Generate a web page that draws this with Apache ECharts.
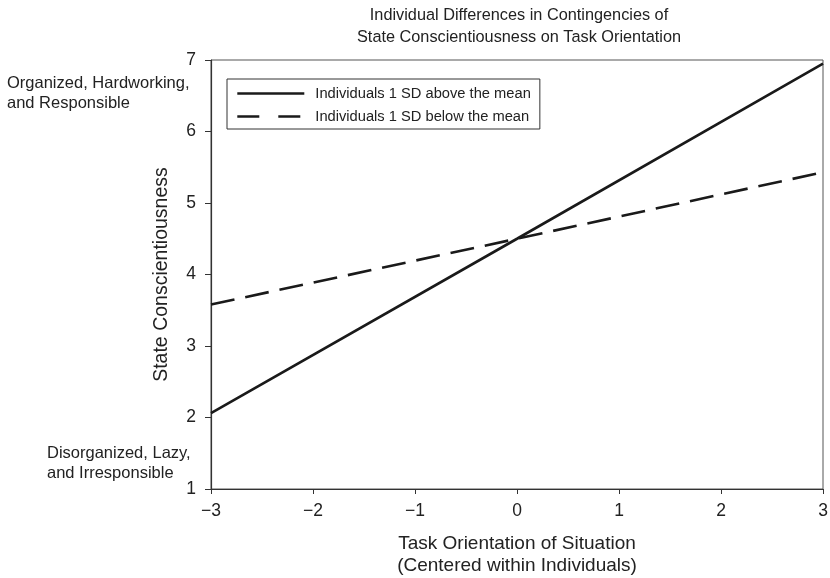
<!DOCTYPE html>
<html>
<head>
<meta charset="utf-8">
<script src="https://cdn.jsdelivr.net/npm/echarts@6/dist/echarts.min.js"></script>
<style>
html,body{margin:0;padding:0;background:#fff;}
#chart{width:830px;height:578px;}
</style>
</head>
<body>
<div id="chart"></div>
<script>
const xValues = [-3, 0, 3];
const aboveMean = [2.06, 4.50, 6.95];
const belowMean = [3.58, 4.50, 5.43];
const seriesNames = ['Individuals 1 SD above the mean', 'Individuals 1 SD below the mean'];
const titleLines = ['Individual Differences in Contingencies of', 'State Conscientiousness on Task Orientation'];
const xAxisName = ['Task Orientation of Situation', '(Centered within Individuals)'];
const yAxisName = 'State Conscientiousness';
const highLabel = ['Organized, Hardworking,', 'and Responsible'];
const lowLabel = ['Disorganized, Lazy,', 'and Irresponsible'];

const FONT = '"Liberation Sans", Arial, Helvetica, sans-serif';
const TXT = '#222';
const chart = echarts.init(document.getElementById('chart'));

const toPairs = (xs, ys) => xs.map((x, i) => [x, ys[i]]);

chart.setOption({
  animation: false,
  backgroundColor: '#fff',
  textStyle: { fontFamily: FONT, color: TXT },
  title: {
    text: titleLines.join('\n'),
    left: 514,
    textAlign: 'center',
    top: 0,
    textStyle: { fontSize: 16.3, fontWeight: 'normal', color: TXT, lineHeight: 22, fontFamily: FONT }
  },
  grid: {
    left: 211, right: 7, top: 60, bottom: 89,
    containLabel: false,
    outerBoundsMode: 'none',
    show: true, borderColor: '#555', borderWidth: 1, backgroundColor: 'transparent'
  },
  legend: {
    orient: 'vertical',
    left: 227, top: 79,
    itemWidth: 67, itemHeight: 14, itemGap: 8,
    padding: [7, 9, 5, 9],
    borderColor: '#333', borderWidth: 1,
    itemStyle: { opacity: 0 },
    textStyle: { fontSize: 14.7, color: TXT, fontFamily: FONT, padding: [0, 0, 0, 6] },
    data: [
      { name: seriesNames[0], itemStyle: { opacity: 0 }, lineStyle: { width: 2.6, type: 'solid' } },
      { name: seriesNames[1], itemStyle: { opacity: 0 }, lineStyle: { width: 2.6, type: [22, 19] } }
    ]
  },
  xAxis: {
    type: 'value', min: -3, max: 3, interval: 1,
    name: xAxisName.join('\n'),
    nameLocation: 'middle', nameGap: 44,
    nameTextStyle: { fontSize: 19, color: TXT, lineHeight: 22, fontFamily: FONT },
    axisLine: { onZero: false, lineStyle: { color: '#333', width: 1.2 } },
    axisTick: { show: true, length: 5, lineStyle: { color: '#333' } },
    axisLabel: { fontSize: 17.5, color: TXT, margin: 13, fontFamily: FONT, formatter: v => (v < 0 ? '\u2212' + Math.abs(v) : String(v)) },
    splitLine: { show: false }
  },
  yAxis: {
    type: 'value', min: 1, max: 7, interval: 1,
    name: yAxisName,
    nameLocation: 'middle', nameGap: 39, nameRotate: 90,
    nameTextStyle: { fontSize: 19.5, color: TXT, fontFamily: FONT },
    axisLine: { show: true, onZero: false, lineStyle: { color: '#333', width: 1.2 } },
    axisTick: { show: true, length: 6, lineStyle: { color: '#333' } },
    axisLabel: { fontSize: 17.5, color: TXT, margin: 15, fontFamily: FONT },
    splitLine: { show: false }
  },
  graphic: [
    { type: 'text', left: 7, top: 73, style: { text: highLabel.join('\n'), fontSize: 16.5, lineHeight: 20, fill: TXT, fontFamily: FONT } },
    { type: 'text', left: 47, top: 443, style: { text: lowLabel.join('\n'), fontSize: 16.5, lineHeight: 20, fill: TXT, fontFamily: FONT } }
  ],
  series: [
    {
      name: seriesNames[0], type: 'line', data: toPairs(xValues, aboveMean),
      showSymbol: false, symbol: 'none',
      lineStyle: { color: '#1a1a1a', width: 2.6, type: 'solid' },
      itemStyle: { color: '#1a1a1a' }
    },
    {
      name: seriesNames[1], type: 'line', data: toPairs(xValues, belowMean),
      showSymbol: false, symbol: 'none',
      lineStyle: { color: '#1a1a1a', width: 2.6, type: [24, 11] },
      itemStyle: { color: '#1a1a1a' }
    }
  ]
});
</script>
</body>
</html>
